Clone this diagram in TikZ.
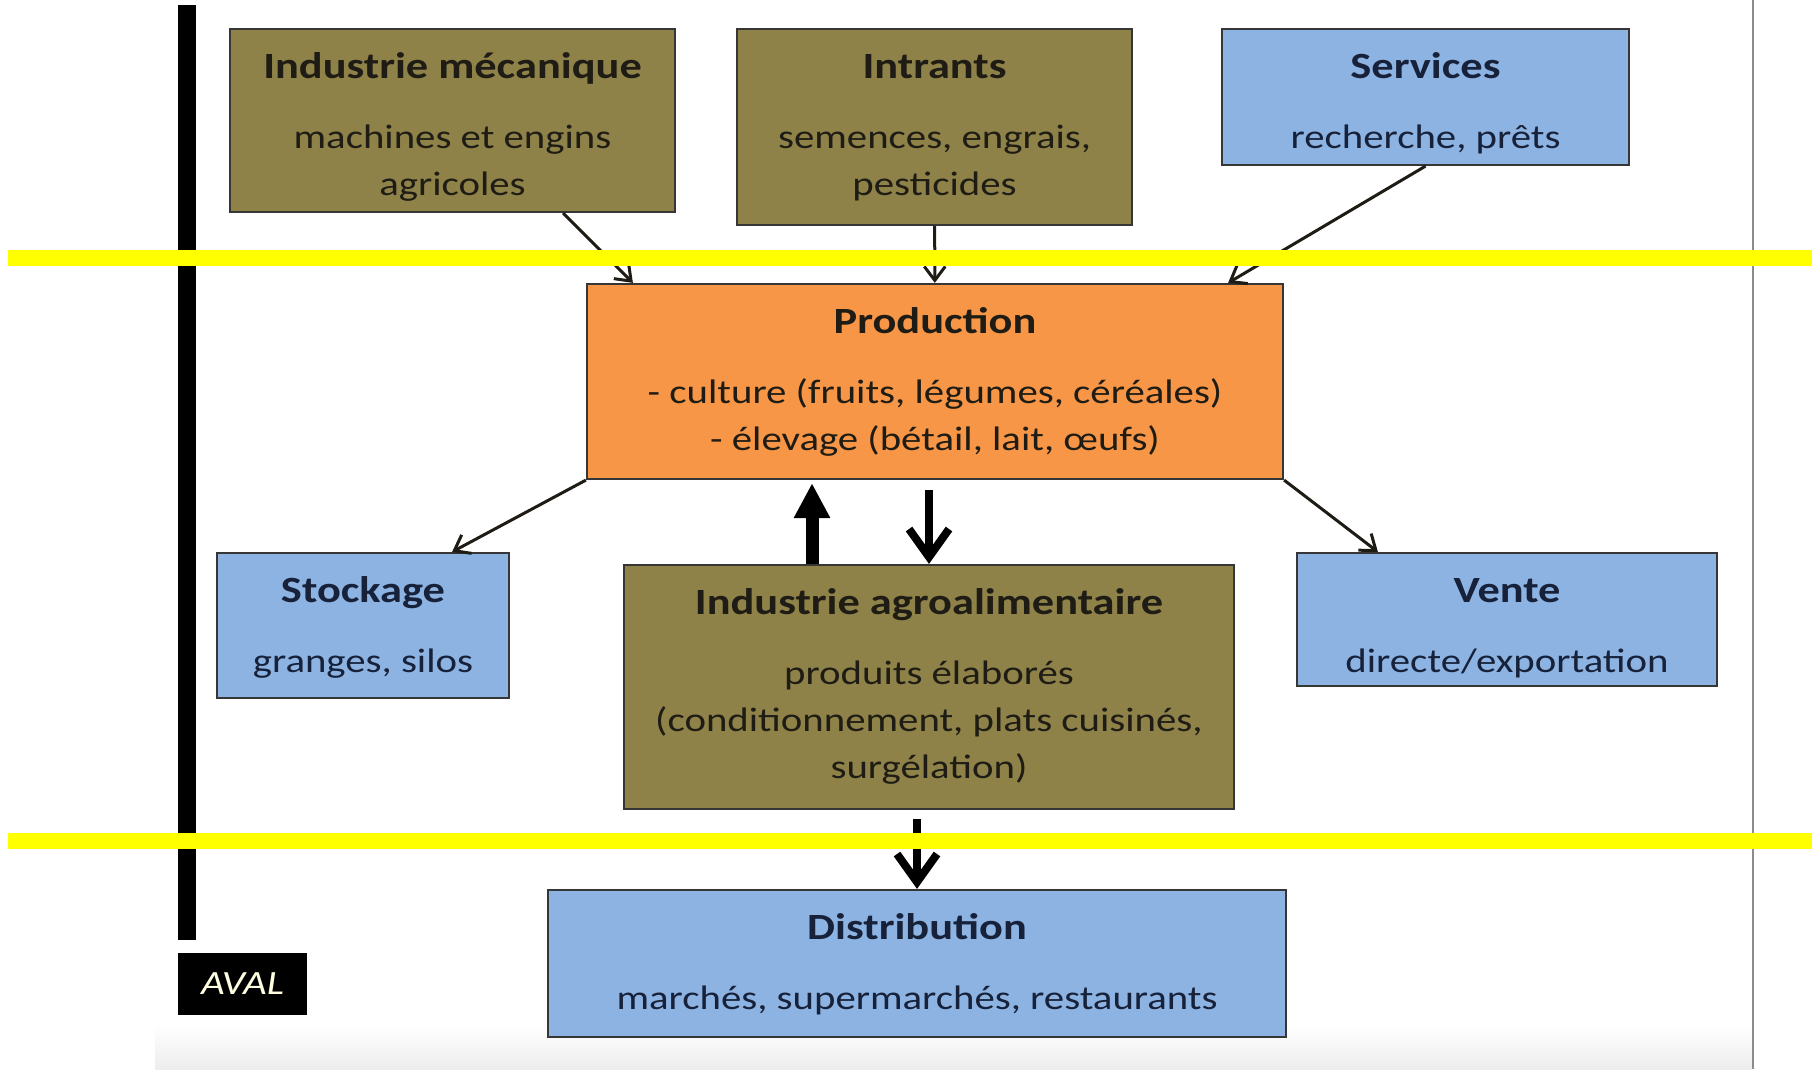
\documentclass[tikz,border=0pt]{standalone}
\usepackage{fontspec}
\setmainfont{Carlito}[FakeStretch=1.2]
\usepackage{tikz}
\usetikzlibrary{arrows.meta,calc}
\definecolor{FiliereOlive}{HTML}{8E8249}
\definecolor{FiliereSky}{HTML}{8DB3E2}
\definecolor{FiliereOrange}{HTML}{F79646}
\definecolor{FiliereEdge}{HTML}{363636}
\definecolor{FiliereInk}{HTML}{1E1C14}
\definecolor{FiliereNavy}{HTML}{17223A}
\definecolor{FiliereMark}{HTML}{FFFF00}
\newcommand{\filierebox}[6]{%
  \node[draw=FiliereEdge,fill=#1,line width=2.2pt,inner sep=0pt,text=FiliereInk,
        font=\fontsize{34}{47}\selectfont,#6] (#2)
        {\parbox[c][#5][t]{#4}{\centering #3}};}
\newcommand{\boxhead}[1]{\rule{0pt}{49pt}{\bfseries\fontsize{37}{47}\selectfont #1}\\[23pt]}

\begin{document}
\begin{tikzpicture}[x=1pt,y=-1pt,>={Straight Barb[length=14pt,width=21pt]}]
  \useasboundingbox (0,0) rectangle (1814,1069);
  \shade[top color=white,bottom color=black!7] (155,1025) rectangle (1752,1069);
  \draw[black!45,line width=2.5pt] (1753,0) -- (1753,1069);
  % amont -> aval
  \fill[black] (178,5) rectangle (196,940);
  \node[fill=black,text=white!88!yellow,font=\itshape\fontsize{34}{40}\selectfont,
        minimum width=129pt,minimum height=62pt,inner sep=0pt] (aval) at (242.5,983.5) {AVAL};
  % amont
  \filierebox{FiliereOlive}{mecanique}{\boxhead{Industrie mécanique}machines et engins\\agricoles}
    {445pt}{183pt}{at={(452.5,120.5)}}
  \filierebox{FiliereOlive}{intrants}{\boxhead{Intrants}semences, engrais,\\pesticides}
    {395pt}{196pt}{at={(934.5,127)}}
  \filierebox{FiliereSky}{services}{\boxhead{Services}recherche, prêts}
    {407pt}{136pt}{at={(1425.5,97)},text=FiliereNavy}
  % production
  \filierebox{FiliereOrange}{production}{\boxhead{Production}- culture (fruits, légumes, céréales)\\- élevage (bétail, lait, œufs)}
    {696pt}{195pt}{at={(935,381.5)}}
  % aval
  \filierebox{FiliereSky}{stockage}{\boxhead{Stockage}granges, silos}
    {292pt}{145pt}{at={(363,625.5)},text=FiliereNavy}
  \filierebox{FiliereOlive}{agro}{\boxhead{Industrie agroalimentaire}produits élaborés\\(conditionnement, plats cuisinés,\\surgélation)}
    {610pt}{244pt}{at={(929,687)}}
  \filierebox{FiliereSky}{vente}{\boxhead{Vente}directe/exportation}
    {420pt}{133pt}{at={(1507,619.5)},text=FiliereNavy}
  \filierebox{FiliereSky}{distribution}{\boxhead{Distribution}marchés, supermarchés, restaurants}
    {738pt}{147pt}{at={(917,963.5)},text=FiliereNavy}
  \draw[->,FiliereInk,line width=3pt] ([xshift=-113pt]mecanique.south east) -- ([xshift=47pt]production.north west);
  \draw[->,FiliereInk,line width=3pt] (intrants) -- (production);
  \draw[->,FiliereInk,line width=3pt] (services.south) -- ([xshift=-56pt]production.north east);
  \draw[->,FiliereInk,line width=3pt] (production.south west) -- ([xshift=-58pt]stockage.north east);
  \draw[->,FiliereInk,line width=3pt] (production.south east) -- ([xshift=82pt]vente.north west);
  \draw[-{Triangle[length=35pt,width=34pt]},black,line width=13pt,shorten >=3pt]
    ([xshift=-117pt]agro.north) -- ([xshift=-117pt]agro.north |- production.south);
  \draw[-{Straight Barb[length=28pt,width=40pt]},black,line width=8pt,shorten <=10pt]
    (agro.north |- production.south) -- (agro.north);
  \draw[-{Straight Barb[length=28pt,width=40pt]},black,line width=8pt,shorten <=9pt]
    (distribution.north |- agro.south) -- (distribution.north);
  % surlignage
  \fill[FiliereMark] (8,250) rectangle (1812,266);
  \fill[FiliereMark] (8,833) rectangle (1812,849);
\end{tikzpicture}
\end{document}
